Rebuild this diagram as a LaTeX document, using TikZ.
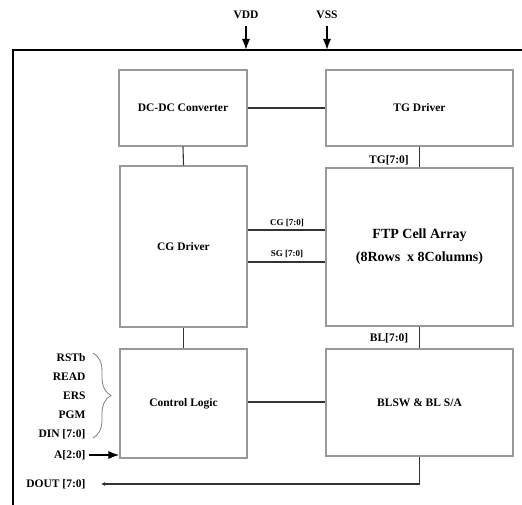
\documentclass[tikz,border=0pt]{standalone}
\usepackage{fontspec}
\setmainfont{Liberation Serif}
\usetikzlibrary{arrows.meta,positioning,decorations.pathreplacing}

\begin{document}
\begin{tikzpicture}[x=1pt,y=-1pt,>=Latex,
  every node/.style={font=\fontsize{11.5}{13}\selectfont\bfseries},
  blk/.style={draw=black!40,line width=1.3pt,inner sep=0pt},
  wire/.style={draw=black!80,line width=1.1pt},
  bus/.style={font=\fontsize{9}{10}\selectfont\bfseries}]
\useasboundingbox (0,0) rectangle (522,504);
\clip (0,0) rectangle (522,504);
% chip outline
\coordinate (top) at (0,50);
\draw[line width=2pt] (13,530) -- (13,50) -- (540,50);
\node (vdd) at (246,15) {VDD};
\node (vss) at (327,15) {VSS};
\draw[->,line width=1.8pt,shorten <=4pt] (vdd.south) -- (vdd.south |- top);
\draw[->,line width=1.8pt,shorten <=4pt] (vss.south) -- (vss.south |- top);
% blocks
\node[blk,minimum width=128,minimum height=76] (dcdc) at (183,108) {DC-DC Converter};
\node[blk,minimum width=187,minimum height=76] (tgdrv) at (419.5,108) {TG Driver};
\node[blk,minimum width=127,minimum height=161] (cgdrv) at (183.5,246.5) {CG Driver};
\node[blk,minimum width=187,minimum height=158,align=center,font=\fontsize{14}{23}\selectfont\bfseries] (ftp) at (419.5,247)
 {FTP Cell Array\\(8Rows\ \ x 8Columns)};
\node[blk,minimum width=127,minimum height=109] (ctrl) at (183.5,403.5) {Control Logic};
\node[blk,minimum width=187,minimum height=107] (blsw) at (419.5,402.5) {BLSW \& BL S/A};
% connections
\draw[wire] (dcdc.east) -- (tgdrv.west);
\draw[wire] (dcdc.south) -- (cgdrv.north);
\draw[wire] (cgdrv.south) -- (ctrl.north);
\draw[wire] (ctrl.east |- 0,402) -- (blsw.west |- 0,402);
\draw[wire] (tgdrv.south) -- (ftp.north);
\draw[wire] (ftp.south) -- (blsw.north);
\node (tg) at (389,160) {TG[7:0]};
\node (bl) at (389,338) {BL[7:0]};
\node[bus] (cg) at (287,223) {CG [7:0]};
\node[bus] (sg) at (287,254) {SG [7:0]};
\draw[wire,line width=1.8pt] (cgdrv.east |- 0,230) -- (ftp.west |- 0,230);
\draw[wire,line width=1.4pt] (cgdrv.east |- 0,262) -- (ftp.west |- 0,262);
% inputs
\node[anchor=east] (rstb) at (89,358) {RSTb};
\node[anchor=east] (read) at (89,377) {READ};
\node[anchor=east] (ers) at (89,396) {ERS};
\node[anchor=east] (pgm) at (89,415) {PGM};
\node[anchor=east] (din) at (89,434) {DIN [7:0]};
\draw[black!50,line width=0.8pt,decorate,decoration={brace,amplitude=18pt,aspect=0.5}] (93,353) -- (93,438);
\node[anchor=east] (addr) at (89,455) {A[2:0]};
\draw[->,line width=1.8pt] (addr.east) -- (ctrl.west |- addr.east);
% output
\node[anchor=east] (dout) at (89,484) {DOUT [7:0]};
\draw[->,wire,shorten >=12pt,>={Latex[length=4pt,width=4pt]}] (blsw.south) |- (dout.east);
\end{tikzpicture}
\end{document}
